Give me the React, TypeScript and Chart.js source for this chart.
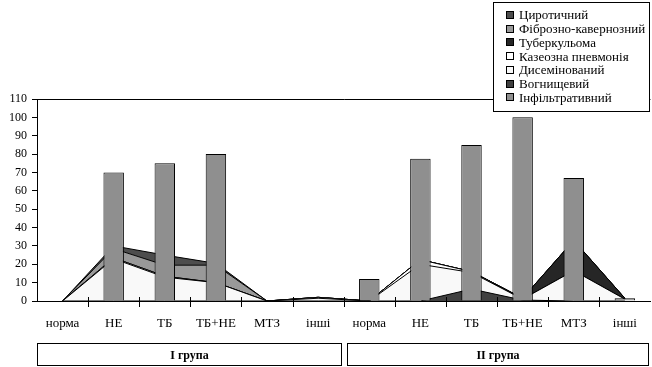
import React, { useEffect, useRef } from "react";
import { Chart, registerables } from "chart.js";

Chart.register(...registerables);

const categories = ["норма", "НЕ", "ТБ", "ТБ+НЕ", "МТЗ", "інші", "норма", "НЕ", "ТБ", "ТБ+НЕ", "МТЗ", "інші"];
const groups = ["I група", "II група"];
const infiltratyvnyi = [0, 70, 75, 80, 0, 0, 12, 77.5, 85, 100, 67, 1.5];
const vohnyshchevyi = [0, 0, 0, 0, 0, 0, 0, 0, 6.5, 0.5, 0, 0];
const dysemin = [0, 23, 13, 10, 0, 1.5, 0, 20, 9, 0.5, 16.5, 1];
const kazeozna = [0, 0.5, 0.5, 0, 0, 0.5, 0, 2.5, 0.5, 0, 0, 0];
const tuberkuloma = [0, 0, 0, 0, 0, 0, 0, 0, 0, 0.5, 16.5, 0.5];
const fibrozno = [0, 5, 6, 9.5, 0, 0, 0, 0, 0, 0, 0, 0];
const tsyrotychnyi = [0, 1.5, 5.5, 1, 0, 0, 0, 0, 0, 0, 0, 0];

const FONT = '"Liberation Serif"';

const legendItems = [
  { label: "Циротичний", color: "#4d4d4d" },
  { label: "Фіброзно-кавернозний", color: "#999999" },
  { label: "Туберкульома", color: "#262626" },
  { label: "Казеозна пневмонія", color: "#ffffff" },
  { label: "Дисемінований", color: "#f9f9f9" },
  { label: "Вогнищевий", color: "#404040" },
  { label: "Інфільтративний", color: "#8f8f8f" },
];

const decorPlugin = {
  id: "decor",
  afterDraw(chart: any) {
    const ctx = chart.ctx;
    const area = chart.chartArea;
    const ys = chart.scales.y;
    const n = categories.length;
    const w = (area.right - area.left) / n;
    const y0 = ys.getPixelForValue(0);
    ctx.save();
    ctx.strokeStyle = "#000";
    ctx.lineWidth = 1;
    for (let i = 1; i < n; i++) {
      const x = Math.round(area.left + i * w) + 0.5;
      ctx.beginPath();
      ctx.moveTo(x, y0 - 4);
      ctx.lineTo(x, y0 + 6);
      ctx.stroke();
    }
    const half = n / 2;
    const boundary = area.left + half * w;
    const boxTop = 343.5;
    const boxH = 22;
    const boxes = [
      { x1: Math.round(area.left) + 0.5, x2: Math.round(boundary - 3) + 0.5, label: groups[0] },
      { x1: Math.round(boundary + 3) + 0.5, x2: Math.round(area.right - 2) + 0.5, label: groups[1] },
    ];
    ctx.font = "bold 12px " + FONT;
    ctx.textAlign = "center";
    ctx.textBaseline = "middle";
    ctx.fillStyle = "#000";
    for (const b of boxes) {
      ctx.strokeRect(b.x1, boxTop, b.x2 - b.x1, boxH);
      ctx.fillText(b.label, (b.x1 + b.x2) / 2, boxTop + boxH / 2 + 1);
    }
    const lx = 493.5, ly = 2.5, lw = 156, lh = 109;
    ctx.fillStyle = "#fff";
    ctx.fillRect(lx, ly, lw, lh);
    ctx.strokeRect(lx, ly, lw, lh);
    ctx.font = "13px " + FONT;
    ctx.textAlign = "left";
    ctx.textBaseline = "middle";
    legendItems.forEach((it, i) => {
      const cy = 15 + i * 13.7;
      ctx.fillStyle = it.color;
      ctx.fillRect(506.5, Math.round(cy - 4) + 0.5, 7, 7);
      ctx.strokeRect(506.5, Math.round(cy - 4) + 0.5, 7, 7);
      ctx.fillStyle = "#000";
      ctx.fillText(it.label, 519, cy + 1);
    });
    ctx.restore();
  },
};

export default function App() {
  const ref = useRef<HTMLCanvasElement | null>(null);
  useEffect(() => {
    let chart: any = null;
    let cancelled = false;
    const areaDs = (label: string, data: number[], color: string, first: boolean) => ({
      type: "line" as const,
      label,
      data,
      backgroundColor: color,
      borderColor: "#000",
      borderWidth: 1,
      pointRadius: 0,
      tension: 0,
      fill: first ? "origin" : "-1",
      order: 1,
    });
    const build = () => {
      if (cancelled || !ref.current) return;
      chart = new Chart(ref.current, {
        type: "bar",
        data: {
          labels: categories,
          datasets: [
            {
              type: "bar",
              label: "Інфільтративний",
              data: infiltratyvnyi,
              backgroundColor: "#8f8f8f",
              borderColor: "#000",
              borderWidth: 1,
              barPercentage: 0.4,
              categoryPercentage: 1,
              order: 0,
            } as any,
            areaDs("Вогнищевий", vohnyshchevyi, "#404040", true),
            areaDs("Дисемінований", dysemin, "#f9f9f9", false),
            areaDs("Казеозна пневмонія", kazeozna, "#ffffff", false),
            areaDs("Туберкульома", tuberkuloma, "#262626", false),
            areaDs("Фіброзно-кавернозний", fibrozno, "#999999", false),
            areaDs("Циротичний", tsyrotychnyi, "#4d4d4d", false),
          ],
        },
        options: {
          animation: false,
          responsive: false,
          devicePixelRatio: 1,
          layout: { padding: { top: 99, right: 1, left: 0, bottom: 0 } },
          plugins: { legend: { display: false }, tooltip: { enabled: false } },
          scales: {
            x: {
              offset: true,
              grid: { display: true, drawOnChartArea: false, drawTicks: false, offset: true, color: "rgba(0,0,0,0)" },
              border: { display: true, color: "#000", width: 1 },
              ticks: { color: "#000", font: { family: FONT, size: 13 }, padding: 15, maxRotation: 0, autoSkip: false },
              afterFit: (s: any) => { s.height = 66; },
            },
            y: {
              stacked: true,
              min: 0,
              max: 110,
              ticks: { stepSize: 10, color: "#000", font: { family: FONT, size: 12 }, padding: 5 },
              grid: {
                color: (c: any) => (c.tick && c.tick.value === 110 ? "#000" : "rgba(0,0,0,0)"),
                tickColor: "#000",
                tickLength: 5,
              },
              border: { display: true, color: "#000", width: 1 },
              afterFit: (s: any) => { s.width = 37; },
            },
          },
        } as any,
        plugins: [decorPlugin],
      });
    };
    const fonts: any = (document as any).fonts;
    if (fonts && fonts.load) {
      Promise.all([
        fonts.load('13px "Liberation Serif"', "НЕабв"),
        fonts.load('bold 12px "Liberation Serif"', "група"),
      ]).then(build, build);
    } else {
      build();
    }
    return () => {
      cancelled = true;
      if (chart) chart.destroy();
    };
  }, []);
  return (
    <div style={{ position: "fixed", left: 0, top: 0, width: 652, height: 367, background: "#fff" }}>
      <canvas ref={ref} width={652} height={367} style={{ width: 652, height: 367, display: "block" }} />
    </div>
  );
}
